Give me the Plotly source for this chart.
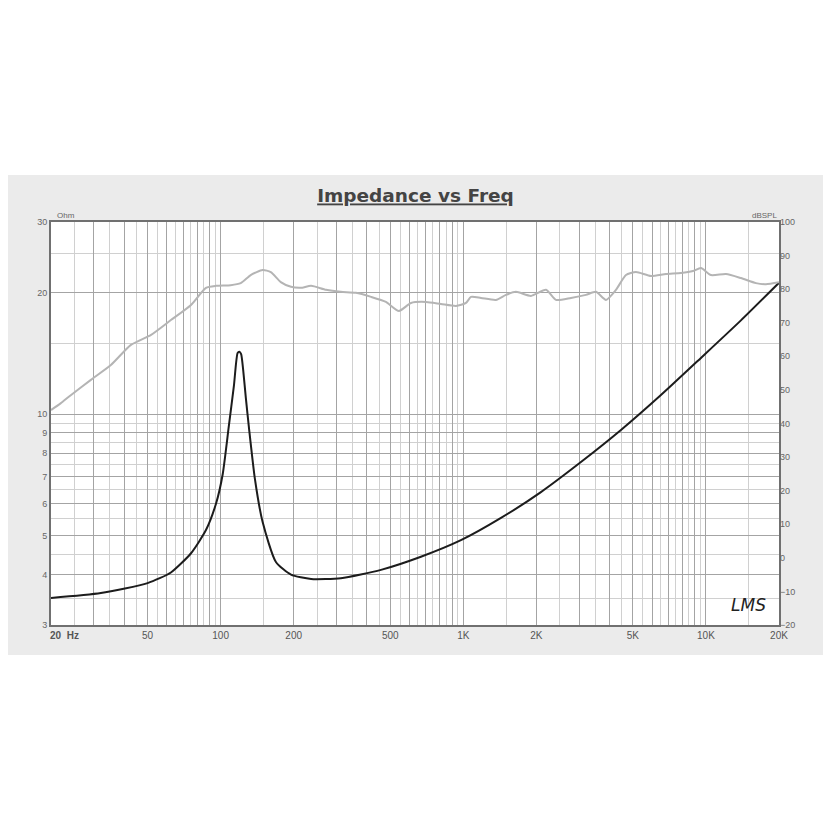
import plotly.graph_objects as go

# impedance curve (Hz, Ohm)
imp_freq = [20, 32.1, 50, 62.4, 75.5, 87, 95.7, 102, 108, 113.5, 117.5, 119.5, 121.5, 124,
            127, 131, 138.5, 149, 169, 195, 236, 313, 458, 669, 978, 1430, 2089, 3054,
            4464, 6523, 9536, 13936, 20000]
imp_ohm = [3.5, 3.6, 3.81, 4.05, 4.52, 5.16, 6.0, 7.1, 9.3, 11.8, 14.2, 14.3, 14.1, 12.8,
           11.0, 9.2, 6.9, 5.4, 4.3, 4.0, 3.9, 3.92, 4.11, 4.43, 4.87, 5.53, 6.41, 7.61,
           9.14, 11.16, 13.8, 17.1, 21.2]

# SPL curve (Hz, dB)
spl_freq = [20, 21.9, 24.2, 29.2, 35.3, 42.7, 51.7, 62.4, 75.5, 87, 95.7, 110, 121, 133,
            149, 161, 177, 195, 214, 236, 272, 313, 361, 417, 480, 543, 609, 702, 809,
            933, 1026, 1076, 1183, 1363, 1499, 1648, 1901, 2192, 2409, 2777, 3202, 3521,
            3872, 4257, 4681, 5147, 5934, 6843, 7889, 8841, 9536, 10485, 12089, 13936,
            16067, 17667, 20000]
spl_db = [44.0, 46.0, 48.5, 53.0, 57.4, 63.4, 66.4, 70.8, 75.3, 80.4, 81.0, 81.2, 81.8, 84.2,
          85.7, 85.1, 82.1, 80.7, 80.4, 81.0, 79.8, 79.2, 78.9, 77.7, 76.2, 73.5, 75.9, 76.2,
          75.6, 75.0, 75.9, 77.7, 77.4, 76.8, 78.3, 79.2, 78.0, 79.8, 76.8, 77.4, 78.3, 79.2,
          76.8, 79.8, 84.2, 85.1, 83.9, 84.5, 84.8, 85.4, 86.3, 84.2, 84.5, 83.3, 81.8, 81.5,
          82.1]

x_labels = {50: "50", 100: "100", 200: "200", 500: "500", 1000: "1K",
            2000: "2K", 5000: "5K", 10000: "10K", 20000: "20K"}
ohm_ticks = [3, 4, 5, 6, 7, 8, 9, 10, 20, 30]
db_ticks = [-20, -10, 0, 10, 20, 30, 40, 50, 60, 70, 80, 90, 100]

# log grid: integer multiples darker, half multiples lighter
x_major, x_minor = [], []
for dec in [10, 100, 1000, 10000]:
    for m in range(1, 10):
        if 20 <= m * dec <= 20000:
            x_major.append(m * dec)
        if 20 <= (m + 0.5) * dec <= 20000:
            x_minor.append((m + 0.5) * dec)
x_text = [x_labels.get(v, "") for v in x_major]

y_major = [3, 4, 5, 6, 7, 8, 9, 10, 20, 30]
y_minor = [3.5, 4.5, 5.5, 6.5, 7.5, 8.5, 9.5, 15, 25]
y_text = [str(v) if v in ohm_ticks else "" for v in y_major]

fig = go.Figure()
fig.add_trace(go.Scatter(x=spl_freq, y=spl_db, mode="lines", yaxis="y2",
                         line=dict(color="#b4b4b4", width=2, shape="spline", smoothing=0.6)))
fig.add_trace(go.Scatter(x=imp_freq, y=imp_ohm, mode="lines",
                         line=dict(color="#1c1c1c", width=2, shape="spline", smoothing=0.6)))

# page body has an 8px margin, so the figure is offset by 8px
fig.update_layout(
    width=823, height=823,
    margin=dict(l=43, r=52, t=214, b=206),
    paper_bgcolor="white", plot_bgcolor="white",
    showlegend=False,
    font=dict(family="Liberation Sans", color="#555555"),
    title=dict(text="<u><b>Impedance vs Freq</b></u>", x=407.5 / 823, xanchor="center",
               y=1 - 188 / 823, yanchor="middle",
               font=dict(size=18.5, color="#444444", family="DejaVu Sans")),
    xaxis=dict(type="log", range=[1.30103, 4.30103], tickvals=x_major, ticktext=x_text,
               showgrid=True, gridcolor="#a4a4a4", gridwidth=1,
               minor=dict(tickvals=x_minor, showgrid=True, gridcolor="#d0d0d0", gridwidth=1),
               showline=True, linecolor="#707070", linewidth=2, mirror=True,
               ticks="", zeroline=False, tickprefix="<b>", ticksuffix="</b>",
               tickfont=dict(size=10, color="#555555", family="Liberation Sans")),
    yaxis=dict(type="log", range=[0.4771, 1.4771], tickvals=y_major, ticktext=y_text,
               showgrid=True, gridcolor="#a4a4a4", gridwidth=1,
               minor=dict(tickvals=y_minor, showgrid=True, gridcolor="#d0d0d0", gridwidth=1),
               showline=True, linecolor="#707070", linewidth=2, mirror=True,
               ticks="", zeroline=False,
               tickfont=dict(size=9, color="#666666")),
    yaxis2=dict(overlaying="y", side="right", range=[-20, 100], tickvals=db_ticks,
                showgrid=False, zeroline=False, ticks="",
                tickfont=dict(size=9, color="#666666")),
    shapes=[dict(type="rect", xref="paper", yref="paper", layer="below",
                 x0=-43 / 728, x1=780 / 728, y0=-30 / 403, y1=1 + 47 / 403,
                 fillcolor="#ebebeb", line=dict(width=0)),
            dict(type="rect", xref="paper", yref="paper", layer="below",
                 x0=0, x1=1, y0=0, y1=1, fillcolor="white", line=dict(width=0))],
    annotations=[
        dict(text="<b>20  Hz</b>", xref="paper", yref="paper", x=-0.004, y=0,
             xanchor="left", yanchor="top", yshift=-3, showarrow=False,
             font=dict(size=10, color="#555555")),
        dict(text="Ohm", xref="paper", yref="paper", x=0.005, y=1, xanchor="left",
             yanchor="bottom", showarrow=False, font=dict(size=8, color="#666666")),
        dict(text="dBSPL", xref="paper", yref="paper", x=1, y=1, xanchor="right",
             yanchor="bottom", showarrow=False, font=dict(size=8, color="#666666")),
        dict(text="<i>LMS</i>", xref="paper", yref="paper", x=0.985, y=0.02,
             xanchor="right", yanchor="bottom", showarrow=False,
             font=dict(size=17, color="#222222", family="DejaVu Sans")),
    ],
)

fig.write_html("out.html")
